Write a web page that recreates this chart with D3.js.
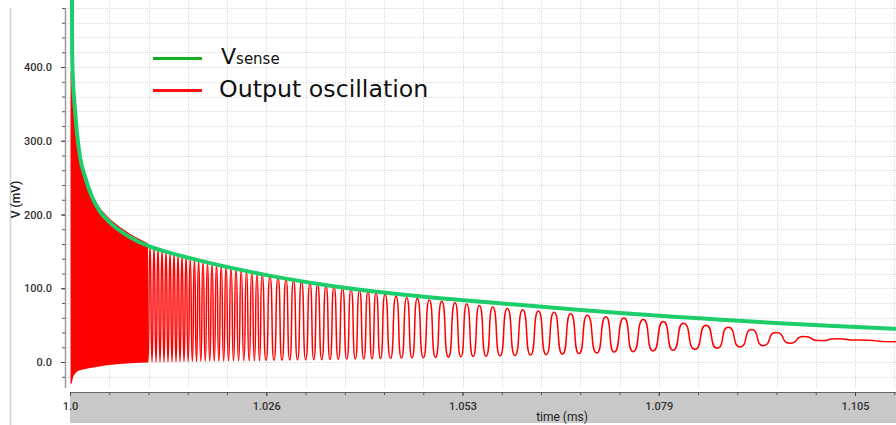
<!DOCTYPE html>
<html>
<head>
<meta charset="utf-8">
<script src="https://cdn.jsdelivr.net/npm/d3@7/dist/d3.min.js"></script>
<style>
body { margin: 0; background: #fff; }
svg { display: block; }
</style>
</head>
<body>
<div id="chart"></div>
<script>
// axis ticks
var xTickValues = [1.0, 1.02625, 1.0525, 1.07875, 1.105];
var xTickLabels = ["1.0", "1.026", "1.053", "1.079", "1.105"];
var yTickValues = [0, 100, 200, 300, 400];
var yTickLabels = ["0.0", "100.0", "200.0", "300.0", "400.0"];

// Vsense (mV) vs time (ms)
var vsenseTime = [1.00021, 1.00029, 1.00040, 1.00054, 1.00067, 1.00094, 1.00134, 1.00201, 1.00294,
    1.00401, 1.00535, 1.00696, 1.00896, 1.01070, 1.01338, 1.01739, 1.02140, 1.02648, 1.03411,
    1.04254, 1.04949, 1.05752, 1.06554, 1.07357, 1.08427, 1.09497, 1.10299, 1.11048];
var vsenseValue = [650, 420, 380, 358, 342, 310, 278, 251, 224,
    204, 189, 176, 164, 156.5, 148, 137.5, 128, 117.5, 104.5,
    93.5, 86.5, 79.6, 72.8, 66.3, 59.2, 52.5, 48.5, 45];

// start of the output: oscillation too fast to resolve, upper / lower envelope
var denseTime = [1.00007, 1.00020, 1.00044, 1.00067, 1.00107, 1.00174, 1.00268, 1.00361, 1.00495,
    1.00629, 1.00803, 1.01043];
var denseUpper = [393, 392, 355, 320, 290, 260, 234, 215, 198, 186, 174, 161];
var denseLower = [-30, -29, -20, -16, -12.3, -10, -8, -6.7, -4.5, -3.2, -1.6, -0.8];

// output oscillation: successive troughs and peaks
var oscTime = [1.01043, 1.01070, 1.01097, 1.01124, 1.01150, 1.01177, 1.01204, 1.01231, 1.01257,
    1.01284, 1.01311, 1.01338, 1.01364, 1.01391, 1.01418, 1.01445, 1.01471, 1.01498, 1.01525,
    1.01552, 1.01580, 1.01608, 1.01636, 1.01664, 1.01692, 1.01720, 1.01750, 1.01779, 1.01809,
    1.01839, 1.01869, 1.01899, 1.01929, 1.01960, 1.01991, 1.02022, 1.02055, 1.02087, 1.02120,
    1.02154, 1.02187, 1.02220, 1.02255, 1.02290, 1.02325, 1.02361, 1.02396, 1.02432, 1.02466,
    1.02501, 1.02535, 1.02568, 1.02622, 1.02675, 1.02729, 1.02782, 1.02836, 1.02889, 1.02939,
    1.02989, 1.03043, 1.03096, 1.03153, 1.03210, 1.03261, 1.03311, 1.03368, 1.03424, 1.03478,
    1.03531, 1.03588, 1.03645, 1.03702, 1.03759, 1.03816, 1.03872, 1.03929, 1.03986, 1.04040,
    1.04093, 1.04153, 1.04213, 1.04287, 1.04361, 1.04433, 1.04504, 1.04575, 1.04645, 1.04726,
    1.04806, 1.04889, 1.04972, 1.05061, 1.05150, 1.05228, 1.05306, 1.05391, 1.05475, 1.05565,
    1.05654, 1.05752, 1.05849, 1.05952, 1.06055, 1.06160, 1.06264, 1.06369, 1.06474, 1.06586,
    1.06697, 1.06808, 1.06919, 1.07044, 1.07169, 1.07276, 1.07410, 1.07531, 1.07668, 1.07798,
    1.07936, 1.08066, 1.08203, 1.08360, 1.08507, 1.08654, 1.08805, 1.08962, 1.09118, 1.09269,
    1.09443, 1.09631, 1.09808, 1.10032, 1.10255, 1.10527, 1.11048];
var oscValue = [-0.5, 158, 0, 156.5, 0, 155, 0, 153, 0,
    151, 0.1, 149, 0.2, 147.5, 0.3, 146, 0.4, 144.5, 0.5,
    143, 0.5, 141.5, 0.6, 140, 0.7, 138.5, 0.8, 137, 0.9,
    135.5, 1.0, 134, 1.0, 132.5, 1.1, 131, 1.2, 129.5, 1.3,
    128, 1.4, 126.5, 1.5, 125, 1.5, 123.5, 1.6, 122, 1.7,
    120.5, 1.8, 119, 2.0, 116, 2.2, 114, 2.4, 112, 2.6,
    110.5, 2.8, 109, 3.0, 107, 3.1, 105.5, 3.2, 103.5, 3.4,
    102, 3.6, 100, 3.8, 98.5, 4.0, 97, 4.2, 95.5, 4.4,
    94, 4.6, 92, 5.0, 89, 5.3, 87.5, 5.6, 86, 5.9,
    84, 6.2, 82.5, 6.6, 80.5, 7.0, 78.5, 7.4, 76.5, 7.8,
    74.5, 8.3, 72.5, 8.8, 71, 9.4, 69, 10.0, 67.5, 10.7,
    65.5, 11.4, 63.5, 12.2, 61.5, 13.5, 59.5, 14.0, 57.5, 14.9,
    55, 16.0, 52.5, 17.2, 50, 18.6, 47, 20.5, 44, 22.2,
    40, 25.5, 34.5, 29, 31.5, 29.8, 27.5];

var width = 896, height = 425;
var plotLeft = 70, plotRight = 896, plotTop = 0, plotBottom = 388;

var x = d3.scaleLinear().domain([1.0, 1.11048]).range([plotLeft, plotRight]);
var y = d3.scaleLinear().domain([0, 400]).range([362, 67]);

var xMinor = d3.range(0, 22).map(function (k) { return 1.0 + k * 0.00525; });
var yMinor = d3.range(-20, 481, 20);

// horizontal-tangent bezier with the control points pulled toward the ends,
// gives the flat tops / steep edges of the simulator waveform
function curveSquareBump(context) {
    var x0, y0, n;
    var k = 0.72;
    return {
        lineStart: function () { n = 0; },
        lineEnd: function () {},
        point: function (px, py) {
            if (n === 0) {
                context.moveTo(px, py);
            } else {
                var dx = px - x0;
                context.bezierCurveTo(x0 + k * dx, y0, px - k * dx, py, px, py);
            }
            x0 = px; y0 = py; n++;
        }
    };
}

var svg = d3.select("#chart")
    .append("svg")
    .attr("width", width)
    .attr("height", height);

svg.append("defs").append("clipPath")
    .attr("id", "plotclip")
    .append("rect")
    .attr("x", 66).attr("y", plotTop)
    .attr("width", plotRight - 66).attr("height", plotBottom - plotTop);

// window border on the left
svg.append("line")
    .attr("x1", 10.5).attr("x2", 10.5)
    .attr("y1", 8).attr("y2", 425)
    .attr("stroke", "#cfcfcf")
    .attr("stroke-width", 1.5);

// grid
var grid = svg.append("g").attr("class", "grid");
grid.selectAll(".gx")
    .data(xMinor.slice(1))
    .enter()
    .append("line")
    .attr("x1", function (d) { return Math.round(x(d)) + 0.5; })
    .attr("x2", function (d) { return Math.round(x(d)) + 0.5; })
    .attr("y1", plotTop)
    .attr("y2", plotBottom)
    .attr("stroke", "#d9d9d9")
    .attr("stroke-dasharray", "1,1");
grid.selectAll(".gy")
    .data(yMinor)
    .enter()
    .append("line")
    .attr("x1", 67)
    .attr("x2", plotRight)
    .attr("y1", function (d) { return Math.round(y(d)) + 0.5; })
    .attr("y2", function (d) { return Math.round(y(d)) + 0.5; })
    .attr("stroke", "#d9d9d9")
    .attr("stroke-dasharray", "1,1");

// y axis
svg.append("line")
    .attr("x1", 65.5).attr("x2", 65.5)
    .attr("y1", 8).attr("y2", plotBottom)
    .attr("stroke", "#9a9a9a")
    .attr("stroke-width", 1.5);

var yMinorAxis = svg.append("g")
    .attr("transform", "translate(65,0)")
    .call(d3.axisLeft(y).tickValues(yMinor).tickSize(3).tickFormat(""));
yMinorAxis.select(".domain").remove();
yMinorAxis.selectAll("line").attr("stroke", "#555");

var yAxis = svg.append("g")
    .attr("transform", "translate(65,0)")
    .call(d3.axisLeft(y)
        .tickValues(yTickValues)
        .tickSize(4)
        .tickPadding(9)
        .tickFormat(function (d, i) { return yTickLabels[i]; }));
yAxis.select(".domain").remove();
yAxis.selectAll("line").attr("stroke", "#444");
yAxis.selectAll("text")
    .attr("font-family", "Roboto, sans-serif")
    .attr("font-size", 11)
    .attr("font-weight", 500)
    .attr("fill", "#333");

svg.append("text")
    .attr("transform", "translate(20,199.5) rotate(-90)")
    .attr("text-anchor", "middle")
    .attr("font-family", "Roboto, sans-serif")
    .attr("font-size", 12)
    .attr("font-weight", 500)
    .attr("fill", "#222")
    .text("V (mV)");

// x axis band
svg.append("rect")
    .attr("x", plotLeft).attr("y", 392)
    .attr("width", plotRight - plotLeft).attr("height", 31)
    .attr("fill", "#c8c8c8");

var xMinorAxis = svg.append("g")
    .attr("transform", "translate(0,392)")
    .call(d3.axisBottom(x).tickValues(xMinor).tickSize(3).tickFormat(""));
xMinorAxis.select(".domain").attr("stroke", "#666");
xMinorAxis.selectAll("line").attr("stroke", "#555");

var xAxis = svg.append("g")
    .attr("transform", "translate(0,392)")
    .call(d3.axisBottom(x)
        .tickValues(xTickValues)
        .tickSize(4)
        .tickPadding(6)
        .tickFormat(function (d, i) { return xTickLabels[i]; }));
xAxis.select(".domain").remove();
xAxis.selectAll("line").attr("stroke", "#444");
xAxis.selectAll("text")
    .attr("font-family", "Roboto, sans-serif")
    .attr("font-size", 11)
    .attr("font-weight", 500)
    .attr("fill", "#333");

svg.append("text")
    .attr("x", 562)
    .attr("y", 421)
    .attr("text-anchor", "middle")
    .attr("font-family", "Roboto, sans-serif")
    .attr("font-size", 12)
    .attr("fill", "#222")
    .text("time (ms)");

// series
var plot = svg.append("g").attr("clip-path", "url(#plotclip)");

var dense = denseTime.map(function (t, i) {
    return {t: t, hi: denseUpper[i], lo: denseLower[i]};
});
plot.append("path")
    .datum(dense)
    .attr("d", d3.area()
        .curve(d3.curveMonotoneX)
        .x(function (d) { return x(d.t); })
        .y0(function (d) { return y(d.lo); })
        .y1(function (d) { return y(d.hi); }))
    .attr("fill", "#ff0000");

var osc = oscTime.map(function (t, i) { return {t: t, v: oscValue[i]}; });
plot.append("path")
    .datum(osc)
    .attr("d", d3.line()
        .curve(curveSquareBump)
        .x(function (d) { return x(d.t); })
        .y(function (d) { return y(d.v); }))
    .attr("fill", "none")
    .attr("stroke", "#ff0000")
    .attr("stroke-width", 1.5);

var vsense = vsenseTime.map(function (t, i) { return {t: t, v: vsenseValue[i]}; });
plot.append("path")
    .datum(vsense)
    .attr("d", d3.line()
        .curve(d3.curveMonotoneX)
        .x(function (d) { return x(d.t); })
        .y(function (d) { return y(d.v); }))
    .attr("fill", "none")
    .attr("stroke", "#1ccd6a")
    .attr("stroke-width", 4);

// legend
var legend = svg.append("g").attr("font-family", "'DejaVu Sans', Verdana, sans-serif");
legend.append("line")
    .attr("x1", 153).attr("x2", 202)
    .attr("y1", 58.5).attr("y2", 58.5)
    .attr("stroke", "#13b021")
    .attr("stroke-width", 3);
var vLabel = legend.append("text")
    .attr("x", 221)
    .attr("y", 63.5)
    .attr("fill", "#111");
vLabel.append("tspan").attr("font-size", 22).text("V");
vLabel.append("tspan").attr("font-size", 15).text("sense");

legend.append("line")
    .attr("x1", 153).attr("x2", 202)
    .attr("y1", 90.5).attr("y2", 90.5)
    .attr("stroke", "#ff1010")
    .attr("stroke-width", 3);
legend.append("text")
    .attr("x", 219)
    .attr("y", 96.7)
    .attr("font-size", 23.7)
    .attr("fill", "#111")
    .text("Output oscillation");
</script>
</body>
</html>
